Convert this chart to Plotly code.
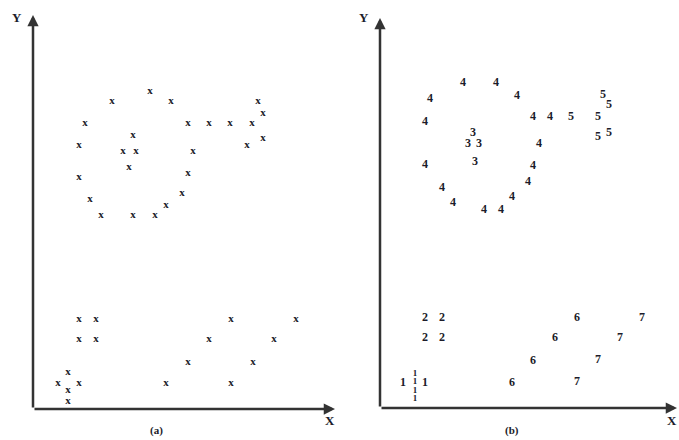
import plotly.graph_objects as go

# ---- panel (a): raw points, all drawn with an "x" glyph ----
a_x = [11.7, 7.9, 13.8, 22.5, 23.0, 5.2, 15.5, 17.6, 19.7, 21.9, 10.0, 23.0, 4.6,
       21.4, 9.0, 10.3, 16.0, 9.6, 4.6, 15.5, 14.9, 5.7, 13.3, 6.8, 10.0, 12.2,
       4.6, 6.3, 19.8, 26.3, 4.6, 6.3, 17.6, 24.1, 15.5, 22.0,
       3.5, 2.5, 4.6, 13.3, 19.8, 3.5, 3.5]
a_y = [31.8, 30.8, 30.8, 30.8, 29.6, 28.6, 28.6, 28.6, 28.6, 28.6, 27.4, 27.1, 26.4,
       26.4, 25.8, 25.8, 25.8, 24.2, 23.2, 23.6, 21.6, 21.0, 20.4, 19.4, 19.4, 19.4,
       9.0, 9.0, 9.0, 9.0, 7.0, 7.0, 7.0, 7.0, 4.7, 4.7,
       3.7, 2.6, 2.6, 2.6, 2.6, 1.9, 0.75]

# ---- panel (b): the same points labelled by cluster ----
# cluster 1 (two side points plus a tight vertical stack)
c1_x = [2.3, 4.5]
c1_y = [2.5, 2.5]
c1_stack_x = [3.5, 3.5, 3.5, 3.5]
c1_stack_y = [3.45, 2.6, 1.75, 0.9]

b_x = [4.5, 6.2, 4.5, 6.2,
       9.3, 8.8, 9.9, 9.5,
       8.3, 11.6, 13.7, 5.0, 4.5, 15.3, 17.0, 15.9, 4.5, 15.3, 14.8, 6.2, 13.2, 7.3, 10.4, 12.1,
       19.1, 21.8, 22.3, 22.9, 21.8, 22.9,
       19.7, 17.5, 15.3, 13.2,
       26.2, 24.0, 21.8, 19.7]
b_y = [9.0, 9.0, 7.0, 7.0,
       27.5, 26.4, 26.4, 24.6,
       32.5, 32.5, 31.2, 30.9, 28.6, 29.1, 29.1, 26.4, 24.3, 24.2, 22.6, 22.0, 21.1, 20.5, 19.8, 19.8,
       29.1, 29.1, 31.3, 30.3, 27.1, 27.5,
       9.0, 7.0, 4.7, 2.5,
       9.0, 7.0, 4.8, 2.6]
b_lab = ["2"] * 4 + ["3"] * 4 + ["4"] * 16 + ["5"] * 6 + ["6"] * 4 + ["7"] * 4

W, H = 679, 440
SERIF = "Liberation Serif, Times New Roman, serif"
INK = "#1c1c2a"
AXIS = "#333333"

# pixel frames of the two panels: (origin_x, origin_y, tip_x, tip_y)
frames = {"a": (33, 409, 335, 15), "b": (380, 408, 677, 18)}
# centre of each panel's "X" letter, in pixels
x_letter = {"a": (330, 420), "b": (672, 420)}
UNIT = 10.0  # pixels per data unit


def text_trace(xs, ys, labels, size, xa, ya):
    return go.Scatter(
        x=xs, y=ys, mode="text", text=labels,
        textfont=dict(family=SERIF, size=size, color=INK, weight="bold"),
        textposition="middle center", xaxis=xa, yaxis=ya, hoverinfo="skip",
        showlegend=False)


fig = go.Figure()
fig.add_trace(text_trace(a_x, a_y, ["x"] * len(a_x), 11, "x", "y"))
fig.add_trace(text_trace(b_x, b_y, b_lab, 12, "x2", "y2"))
fig.add_trace(text_trace(c1_x, c1_y, ["1"] * len(c1_x), 12, "x2", "y2"))
fig.add_trace(text_trace(c1_stack_x, c1_stack_y, ["1"] * len(c1_stack_x), 9, "x2", "y2"))

layout = dict(width=W, height=H, margin=dict(l=0, r=0, t=0, b=0),
              paper_bgcolor="white", plot_bgcolor="white", showlegend=False)


def label(px, py, txt, size):
    return dict(x=px / W, y=(H - py) / H, xref="paper", yref="paper",
                xanchor="center", yanchor="middle", text=txt, showarrow=False,
                font=dict(family=SERIF, size=size, color=INK))


annotations = []
for key, xa, ya, xr, yr in (("a", "xaxis", "yaxis", "x", "y"),
                            ("b", "xaxis2", "yaxis2", "x2", "y2")):
    ox, oy, tx, ty = frames[key]
    xmax = (tx - ox) / UNIT
    ymax = (oy - ty) / UNIT
    layout[xa] = dict(domain=[ox / W, tx / W], range=[0, xmax], visible=False,
                      fixedrange=True)
    layout[ya] = dict(domain=[(H - oy) / H, (H - ty) / H], range=[0, ymax],
                      visible=False, fixedrange=True)
    # axis arrows drawn from the origin
    for hx, hy in ((xmax, 0), (0, ymax)):
        annotations.append(dict(x=hx, y=hy, ax=0, ay=0, xref=xr, yref=yr,
                                axref=xr, ayref=yr, text="", showarrow=True,
                                arrowhead=2, arrowsize=0.9, arrowwidth=2.5,
                                arrowcolor=AXIS))
    # axis letters
    annotations.append(label(ox - 16, 18, "<b>Y</b>", 13))
    annotations.append(label(*x_letter[key], "<b>X</b>", 13))

annotations.append(label(156, 430, "<b>(a)</b>", 11))
annotations.append(label(512, 430, "<b>(b)</b>", 11))

layout["annotations"] = annotations
fig.update_layout(**layout)

fig.write_html("out.html")
